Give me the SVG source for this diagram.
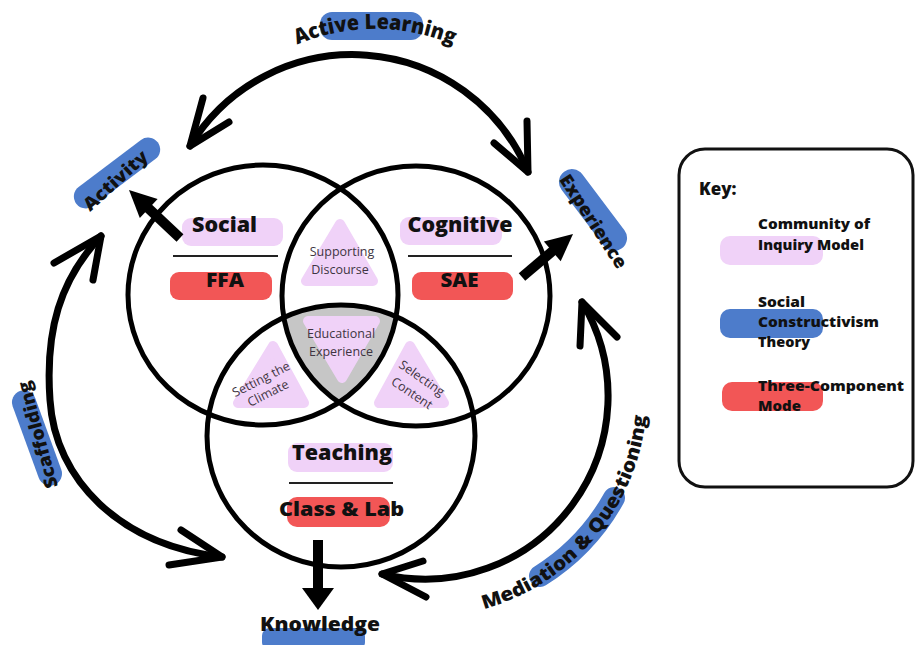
<svg xmlns="http://www.w3.org/2000/svg" width="916" height="645" viewBox="0 0 916 645">
<defs>
<style>
.b{font-family:"Open Sans","Liberation Sans",sans-serif;font-weight:800;fill:#111}
.r{font-family:"Open Sans","Liberation Sans",sans-serif;font-weight:400;fill:#3e3542;font-size:12.5px}
.pink{fill:#f0d2f8}
.blue{fill:#4d7ccb}
.red{fill:#f25656}
.tri{fill:#f0d2f8;stroke:#f0d2f8;stroke-width:10;stroke-linejoin:round}
.circ{fill:none;stroke:#000;stroke-width:5}
.arc{fill:none;stroke:#000;stroke-width:7;stroke-linecap:round;stroke-linejoin:round}
.shaft{stroke:#000;stroke-width:10}
.rule{stroke:#222;stroke-width:2}
</style>
<clipPath id="cS"><ellipse cx="263" cy="295" rx="135" ry="130"/></clipPath>
<clipPath id="cC"><ellipse cx="416" cy="296" rx="134" ry="130"/></clipPath>
<path id="alPath" d="M274,56 A202,202 0 0 1 476,56"/>
<path id="mqPath" d="M463.5,613.6 A222,222 0 0 0 643.6,356.4"/>
</defs>
<rect width="916" height="645" fill="#fff"/>

<g id="venn">
<g clip-path="url(#cS)"><g clip-path="url(#cC)"><ellipse cx="341" cy="436" rx="134" ry="131" fill="#c6c6c6"/></g></g>
<polygon class="tri" points="340,224 306,281 373,281"/>
<polygon class="tri" points="308,321 375,321 342,378"/>
<polygon class="tri" points="273,346 238,403 304,403"/>
<polygon class="tri" points="410,346 379,403 444,403"/>
<ellipse class="circ" cx="263" cy="295" rx="135" ry="130"/>
<ellipse class="circ" cx="416" cy="296" rx="134" ry="130"/>
<ellipse class="circ" cx="341" cy="436" rx="134" ry="131"/>
</g>

<g id="social">
<rect class="pink" x="182" y="218" width="101" height="28" rx="9"/>
<text class="b" x="224.5" y="232" font-size="21" text-anchor="middle" textLength="65" lengthAdjust="spacingAndGlyphs">Social</text>
<line class="rule" x1="173" y1="256" x2="278" y2="256"/>
<rect class="red" x="170" y="272" width="102" height="28" rx="9"/>
<text class="b" x="225" y="287" font-size="19" text-anchor="middle" textLength="38" lengthAdjust="spacingAndGlyphs">FFA</text>
</g>

<g id="cognitive">
<rect class="pink" x="400" y="217" width="102" height="28" rx="9"/>
<text class="b" x="460" y="232" font-size="21" text-anchor="middle" textLength="105" lengthAdjust="spacingAndGlyphs">Cognitive</text>
<line class="rule" x1="408" y1="256" x2="512" y2="256"/>
<rect class="red" x="412" y="272" width="101" height="28" rx="9"/>
<text class="b" x="459.5" y="287" font-size="19" text-anchor="middle" textLength="38" lengthAdjust="spacingAndGlyphs">SAE</text>
</g>

<g id="teaching">
<rect class="pink" x="288" y="443" width="105" height="29" rx="9"/>
<text class="b" x="342" y="460" font-size="21" text-anchor="middle" textLength="100" lengthAdjust="spacingAndGlyphs">Teaching</text>
<line class="rule" x1="289" y1="483" x2="393" y2="483"/>
<rect class="red" x="287" y="497" width="103" height="30" rx="10"/>
<text class="b" x="341.5" y="516" font-size="20" text-anchor="middle" textLength="125" lengthAdjust="spacingAndGlyphs">Class &amp; Lab</text>
</g>

<g id="supporting-discourse">
<text class="r" x="342" y="256" text-anchor="middle">Supporting</text>
<text class="r" x="340" y="274" text-anchor="middle">Discourse</text>
</g>
<g id="educational-experience">
<text class="r" x="341" y="338" text-anchor="middle">Educational</text>
<text class="r" x="341" y="356" text-anchor="middle">Experience</text>
</g>
<g id="setting-the-climate">
<text class="r" transform="translate(261,379) rotate(-27)" text-anchor="middle" dominant-baseline="central">Setting the</text>
<text class="r" transform="translate(268,393) rotate(-27)" text-anchor="middle" dominant-baseline="central">Climate</text>
</g>
<g id="selecting-content">
<text class="r" transform="translate(422,378) rotate(35)" text-anchor="middle" dominant-baseline="central">Selecting</text>
<text class="r" transform="translate(412,393) rotate(34)" text-anchor="middle" dominant-baseline="central">Content</text>
</g>

<g id="activity">
<rect class="blue" x="-51" y="-12" width="102" height="24" rx="12" transform="translate(117,173) rotate(-37)"/>
<text class="b" font-size="18" transform="translate(115,180) rotate(-42)" text-anchor="middle" dominant-baseline="central" textLength="80" lengthAdjust="spacingAndGlyphs">Activity</text>
</g>
<g id="experience">
<rect class="blue" x="-48" y="-13" width="96" height="26" rx="13" transform="translate(593,210) rotate(53)"/>
<text class="b" font-size="18" transform="translate(594,221) rotate(57)" text-anchor="middle" dominant-baseline="central" textLength="108" lengthAdjust="spacingAndGlyphs">Experience</text>
</g>
<g id="knowledge">
<rect class="blue" x="262" y="628" width="103" height="22" rx="8"/>
<text class="b" x="320" y="631" font-size="20" text-anchor="middle" textLength="120" lengthAdjust="spacingAndGlyphs">Knowledge</text>
</g>
<g id="active-learning">
<rect class="blue" x="320" y="12" width="103" height="28" rx="12"/>
<text class="b" font-size="21"><textPath href="#alPath" startOffset="50%" text-anchor="middle" textLength="160" lengthAdjust="spacingAndGlyphs">Active Learning</textPath></text>
</g>
<g id="scaffolding">
<rect class="blue" x="-50" y="-12" width="100" height="24" rx="12" transform="translate(37,438) rotate(-110)"/>
<text class="b" font-size="18" transform="translate(37,435) rotate(-105)" text-anchor="middle" dominant-baseline="central" textLength="110" lengthAdjust="spacingAndGlyphs">Scaffolding</text>
</g>
<g id="mediation-questioning">
<path d="M540,576 A215,215 0 0 0 614,498" fill="none" stroke="#4d7ccb" stroke-width="22" stroke-linecap="round"/>
<text class="b" font-size="19"><textPath href="#mqPath" startOffset="155" text-anchor="middle" textLength="268" lengthAdjust="spacingAndGlyphs">Mediation &amp; Questioning</textPath></text>
</g>

<g id="connectors">
<path class="arc" d="M190,146 A190,190 0 0 1 528,172"/>
<polyline class="arc" points="203,98 190,146 229,122"/>
<polyline class="arc" points="527,121 528,172 494,143"/>
<path class="arc" d="M101,236 C60,280 45,330 50,400 C55,480 120,545 222,557"/>
<polyline class="arc" points="54,263 101,236 93,280"/>
<polyline class="arc" points="181,530 222,557 169,565"/>
<path class="arc" d="M582,302 A183,183 0 0 1 382,574"/>
<polyline class="arc" points="580,346 582,302 617,337"/>
<polyline class="arc" points="423,561 382,574 426,597"/>
<line class="shaft" x1="180" y1="238" x2="147" y2="207"/>
<polygon points="129,190 157.6,199 139.8,218"/>
<line class="shaft" x1="522" y1="277" x2="555" y2="249"/>
<polygon points="573,234 560.7,261.3 543.9,241.5"/>
<line class="shaft" x1="318" y1="540" x2="318" y2="592"/>
<polygon points="318,610 302,588 334,588"/>
</g>

<g id="key">
<rect x="679" y="149" width="234" height="338" rx="26" fill="none" stroke="#111" stroke-width="3"/>
<text class="b" x="699" y="195" font-size="17">Key:</text>
<rect class="pink" x="720" y="236" width="103" height="29" rx="10"/>
<text class="b" x="758" y="229" font-size="14" textLength="112" lengthAdjust="spacingAndGlyphs">Community of</text>
<text class="b" x="758" y="250" font-size="14" textLength="106" lengthAdjust="spacingAndGlyphs">Inquiry Model</text>
<rect class="blue" x="720" y="309" width="103" height="29" rx="10"/>
<text class="b" x="758" y="307" font-size="14" textLength="47" lengthAdjust="spacingAndGlyphs">Social</text>
<text class="b" x="758" y="327" font-size="14" textLength="121" lengthAdjust="spacingAndGlyphs">Constructivism</text>
<text class="b" x="758" y="347" font-size="14" textLength="52" lengthAdjust="spacingAndGlyphs">Theory</text>
<rect class="red" x="722" y="382" width="101" height="29" rx="10"/>
<text class="b" x="758" y="391" font-size="14" textLength="146" lengthAdjust="spacingAndGlyphs">Three-Component</text>
<text class="b" x="758" y="411" font-size="14" textLength="43" lengthAdjust="spacingAndGlyphs">Mode</text>
</g>
</svg>
